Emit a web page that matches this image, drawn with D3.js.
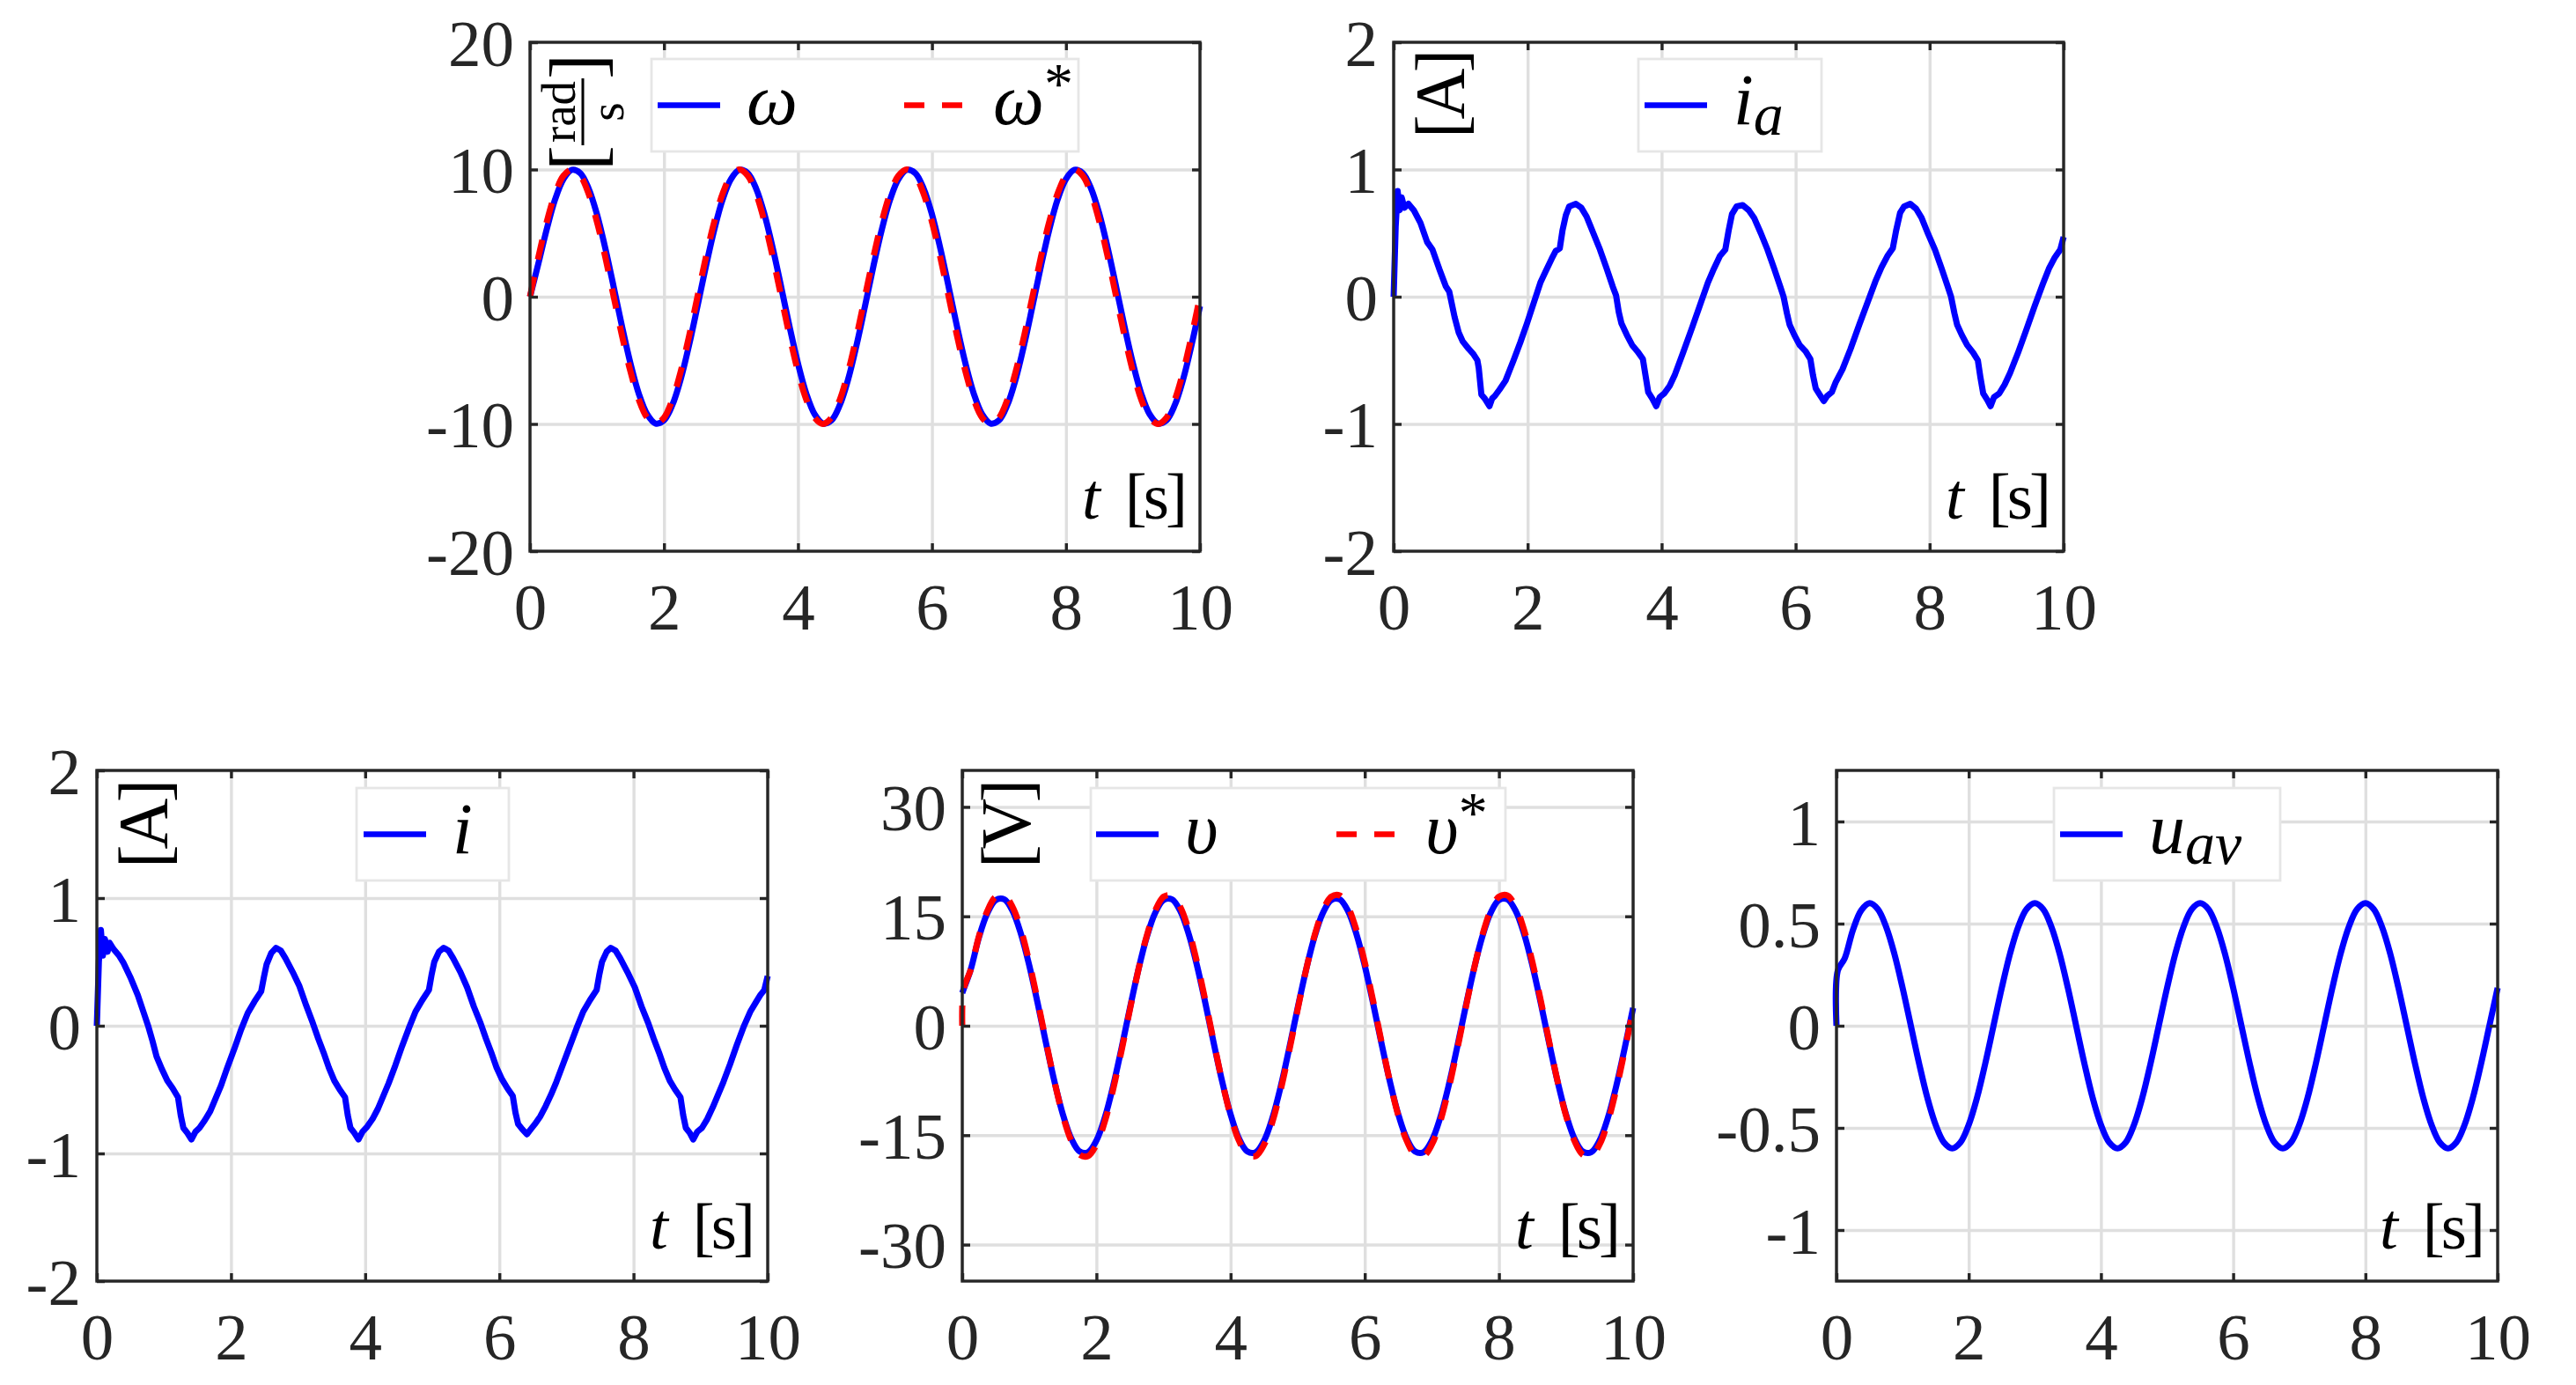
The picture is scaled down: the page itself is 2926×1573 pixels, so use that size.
<!DOCTYPE html>
<html>
<head>
<meta charset="utf-8">
<script src="https://cdn.jsdelivr.net/npm/d3@7"></script>
<style>
  body { margin: 0; background: #fff; }
  svg { display: block; }
  text { font-family: "Liberation Serif", "Times New Roman", serif; }
</style>
</head>
<body>
<div id="chart"></div>
<script>
// sample times [s] for the smooth signals
var tGrid = [0, 0.02, 0.125, 0.25, 0.375, 0.5, 0.625, 0.75, 0.875, 1, 1.125, 1.25, 1.375, 1.5, 1.625, 1.75, 1.875, 2,
  2.125, 2.25, 2.375, 2.5, 2.625, 2.75, 2.875, 3, 3.125, 3.25, 3.375, 3.5, 3.625, 3.75, 3.875, 4,
  4.125, 4.25, 4.375, 4.5, 4.625, 4.75, 4.875, 5, 5.125, 5.25, 5.375, 5.5, 5.625, 5.75, 5.875, 6,
  6.125, 6.25, 6.375, 6.5, 6.625, 6.75, 6.875, 7, 7.125, 7.25, 7.375, 7.5, 7.625, 7.75, 7.875, 8,
  8.125, 8.25, 8.375, 8.5, 8.625, 8.75, 8.875, 9, 9.125, 9.25, 9.375, 9.5, 9.625, 9.75, 9.875, 10];

// speed [rad/s]
var omega = [0, 0.4,
  2.6, 5.3, 7.65, 9.25, 9.97, 9.72, 8.51, 6.47, 3.79, 0.75, -2.37, -5.25, -7.63, -9.25, -9.97, -9.72, -8.51, -6.47, -3.79, -0.75,
  2.37, 5.25, 7.63, 9.25, 9.97, 9.72, 8.51, 6.47, 3.79, 0.75, -2.37, -5.25, -7.63, -9.25, -9.97, -9.72, -8.51, -6.47, -3.79, -0.75,
  2.37, 5.25, 7.63, 9.25, 9.97, 9.72, 8.51, 6.47, 3.79, 0.75, -2.37, -5.25, -7.63, -9.25, -9.97, -9.72, -8.51, -6.47, -3.79, -0.75,
  2.37, 5.25, 7.63, 9.25, 9.97, 9.72, 8.51, 6.47, 3.79, 0.75, -2.37, -5.25, -7.63, -9.25, -9.97, -9.72, -8.51, -6.47, -3.79, -0.75];
var omegaRef = [0, 0.5,
  3.09, 5.88, 8.09, 9.51, 10, 9.51, 8.09, 5.88, 3.09, 0, -3.09, -5.88, -8.09, -9.51, -10, -9.51, -8.09, -5.88, -3.09, 0,
  3.09, 5.88, 8.09, 9.51, 10, 9.51, 8.09, 5.88, 3.09, 0, -3.09, -5.88, -8.09, -9.51, -10, -9.51, -8.09, -5.88, -3.09, 0,
  3.09, 5.88, 8.09, 9.51, 10, 9.51, 8.09, 5.88, 3.09, 0, -3.09, -5.88, -8.09, -9.51, -10, -9.51, -8.09, -5.88, -3.09, 0,
  3.09, 5.88, 8.09, 9.51, 10, 9.51, 8.09, 5.88, 3.09, 0, -3.09, -5.88, -8.09, -9.51, -10, -9.51, -8.09, -5.88, -3.09, 0];

// voltage [V]
var volt = [4.5, 5.0,
  7.67, 12.16, 15.45, 17.23, 17.33, 15.73, 12.59, 8.22, 3.04, -2.44, -7.67, -12.16, -15.45, -17.23, -17.33, -15.73, -12.59, -8.22, -3.04, 2.44,
  7.67, 12.16, 15.45, 17.23, 17.33, 15.73, 12.59, 8.22, 3.04, -2.44, -7.67, -12.16, -15.45, -17.23, -17.33, -15.73, -12.59, -8.22, -3.04, 2.44,
  7.67, 12.16, 15.45, 17.23, 17.33, 15.73, 12.59, 8.22, 3.04, -2.44, -7.67, -12.16, -15.45, -17.23, -17.33, -15.73, -12.59, -8.22, -3.04, 2.44,
  7.67, 12.16, 15.45, 17.23, 17.33, 15.73, 12.59, 8.22, 3.04, -2.44, -7.67, -12.16, -15.45, -17.23, -17.33, -15.73, -12.59, -8.22, -3.04, 2.44];
var voltRef = [0, 5.0,
  7.66, 12.32, 15.76, 17.68, 17.86, 16.29, 13.12, 8.67, 3.37, -2.25, -7.66, -12.32, -15.76, -17.68, -17.86, -16.29, -13.12, -8.67, -3.37, 2.25,
  7.66, 12.32, 15.76, 17.68, 17.86, 16.29, 13.12, 8.67, 3.37, -2.25, -7.66, -12.32, -15.76, -17.68, -17.86, -16.29, -13.12, -8.67, -3.37, 2.25,
  7.66, 12.32, 15.76, 17.68, 17.86, 16.29, 13.12, 8.67, 3.37, -2.25, -7.66, -12.32, -15.76, -17.68, -17.86, -16.29, -13.12, -8.67, -3.37, 2.25,
  7.66, 12.32, 15.76, 17.68, 17.86, 16.29, 13.12, 8.67, 3.37, -2.25, -7.66, -12.32, -15.76, -17.68, -17.86, -16.29, -13.12, -8.67, -3.37, 2.25];

// average duty cycle
var uav = [0, 0.27,
  0.33, 0.47, 0.565, 0.6, 0.571, 0.485, 0.353, 0.185, 0, -0.185, -0.353, -0.485, -0.571, -0.6, -0.571, -0.485, -0.353, -0.185, 0, 0.185,
  0.353, 0.485, 0.571, 0.6, 0.571, 0.485, 0.353, 0.185, 0, -0.185, -0.353, -0.485, -0.571, -0.6, -0.571, -0.485, -0.353, -0.185, 0, 0.185,
  0.353, 0.485, 0.571, 0.6, 0.571, 0.485, 0.353, 0.185, 0, -0.185, -0.353, -0.485, -0.571, -0.6, -0.571, -0.485, -0.353, -0.185, 0, 0.185,
  0.353, 0.485, 0.571, 0.6, 0.571, 0.485, 0.353, 0.185, 0, -0.185, -0.353, -0.485, -0.571, -0.6, -0.571, -0.485, -0.353, -0.185, 0, 0.185];

// armature current i_a [A], (t, value)
var iaData = [[0, 0], [0.03, 0.55], [0.06, 0.83], [0.09, 0.68], [0.12, 0.78], [0.16, 0.7], [0.22, 0.73], [0.3, 0.68],
  [0.4, 0.58], [0.5, 0.43], [0.58, 0.37], [0.68, 0.22], [0.78, 0.08], [0.83, 0.04], [0.91, -0.16], [0.97, -0.28],
  [1.03, -0.35], [1.12, -0.41], [1.19, -0.45], [1.25, -0.5], [1.27, -0.56], [1.31, -0.77], [1.36, -0.8], [1.43, -0.86],
  [1.47, -0.8], [1.51, -0.78], [1.58, -0.73], [1.67, -0.66], [1.73, -0.58], [1.79, -0.5], [1.89, -0.36], [1.99, -0.21],
  [2.09, -0.05], [2.19, 0.11], [2.27, 0.2], [2.36, 0.3], [2.42, 0.36], [2.48, 0.38], [2.52, 0.52], [2.57, 0.64],
  [2.62, 0.71], [2.72, 0.73], [2.8, 0.7], [2.88, 0.63], [2.98, 0.5], [3.08, 0.37], [3.18, 0.22], [3.27, 0.08],
  [3.32, 0.01], [3.36, -0.12], [3.4, -0.21], [3.48, -0.3], [3.56, -0.38], [3.64, -0.43], [3.72, -0.49], [3.76, -0.62],
  [3.8, -0.75], [3.86, -0.8], [3.92, -0.86], [3.97, -0.79], [4.04, -0.76], [4.12, -0.7], [4.2, -0.61], [4.32, -0.44],
  [4.45, -0.25], [4.57, -0.07], [4.69, 0.11], [4.78, 0.22], [4.87, 0.32], [4.95, 0.37], [5, 0.52], [5.05, 0.65],
  [5.12, 0.71], [5.21, 0.72], [5.3, 0.68], [5.38, 0.62], [5.48, 0.5], [5.58, 0.37], [5.68, 0.22], [5.77, 0.08],
  [5.82, 0], [5.87, -0.13], [5.91, -0.22], [5.98, -0.3], [6.06, -0.38], [6.15, -0.43], [6.22, -0.49], [6.26, -0.62],
  [6.3, -0.72], [6.36, -0.77], [6.42, -0.82], [6.47, -0.78], [6.54, -0.75], [6.6, -0.67], [6.7, -0.57], [6.82, -0.41],
  [6.95, -0.22], [7.07, -0.05], [7.19, 0.12], [7.28, 0.23], [7.37, 0.32], [7.45, 0.38], [7.5, 0.52], [7.56, 0.66],
  [7.62, 0.71], [7.71, 0.73], [7.8, 0.69], [7.88, 0.62], [7.98, 0.49], [8.08, 0.37], [8.18, 0.22], [8.27, 0.08],
  [8.32, 0], [8.37, -0.13], [8.41, -0.22], [8.48, -0.3], [8.56, -0.38], [8.65, -0.44], [8.72, -0.5], [8.76, -0.64],
  [8.8, -0.76], [8.86, -0.81], [8.91, -0.86], [8.96, -0.79], [9.04, -0.76], [9.12, -0.69], [9.2, -0.6], [9.32, -0.44],
  [9.45, -0.25], [9.57, -0.07], [9.69, 0.1], [9.78, 0.22], [9.87, 0.31], [9.95, 0.37], [10, 0.47]];

// input current i [A], (t, value)
var iData = [[0, 0], [0.03, 0.5], [0.06, 0.75], [0.09, 0.55], [0.12, 0.68], [0.16, 0.58], [0.19, 0.65], [0.25, 0.6],
  [0.33, 0.55], [0.4, 0.49], [0.5, 0.38], [0.61, 0.24], [0.7, 0.1], [0.77, -0.01], [0.83, -0.12], [0.89, -0.24],
  [0.97, -0.34], [1.05, -0.43], [1.13, -0.49], [1.21, -0.56], [1.25, -0.7], [1.29, -0.8], [1.35, -0.84], [1.41, -0.89],
  [1.47, -0.83], [1.53, -0.8], [1.61, -0.74], [1.69, -0.67], [1.77, -0.57], [1.85, -0.47], [1.95, -0.32], [2.05, -0.18],
  [2.15, -0.03], [2.25, 0.1], [2.35, 0.19], [2.45, 0.27], [2.49, 0.38], [2.53, 0.48], [2.6, 0.57], [2.67, 0.61],
  [2.74, 0.59], [2.81, 0.53], [2.92, 0.42], [3.02, 0.31], [3.12, 0.16], [3.22, 0.02], [3.3, -0.1], [3.38, -0.21],
  [3.46, -0.33], [3.54, -0.43], [3.62, -0.5], [3.7, -0.56], [3.74, -0.7], [3.78, -0.8], [3.84, -0.84], [3.9, -0.89],
  [3.96, -0.83], [4.03, -0.79], [4.11, -0.73], [4.19, -0.65], [4.27, -0.55], [4.35, -0.45], [4.45, -0.31], [4.55, -0.16],
  [4.65, -0.02], [4.75, 0.11], [4.85, 0.2], [4.95, 0.28], [4.99, 0.4], [5.03, 0.5], [5.1, 0.58], [5.17, 0.61],
  [5.24, 0.59], [5.31, 0.53], [5.42, 0.42], [5.52, 0.3], [5.62, 0.15], [5.72, 0.02], [5.8, -0.1], [5.88, -0.21],
  [5.96, -0.33], [6.04, -0.42], [6.12, -0.49], [6.2, -0.55], [6.24, -0.68], [6.28, -0.77], [6.34, -0.81], [6.41, -0.85],
  [6.47, -0.81], [6.53, -0.77], [6.61, -0.71], [6.69, -0.63], [6.77, -0.54], [6.85, -0.44], [6.95, -0.3], [7.05, -0.16],
  [7.15, -0.02], [7.25, 0.11], [7.35, 0.2], [7.45, 0.28], [7.49, 0.4], [7.53, 0.5], [7.6, 0.58], [7.66, 0.61],
  [7.73, 0.59], [7.8, 0.53], [7.91, 0.42], [8.02, 0.3], [8.12, 0.15], [8.22, 0.02], [8.3, -0.1], [8.38, -0.21],
  [8.46, -0.33], [8.54, -0.43], [8.62, -0.5], [8.7, -0.56], [8.74, -0.7], [8.78, -0.8], [8.84, -0.84], [8.89, -0.89],
  [8.95, -0.83], [9.02, -0.8], [9.1, -0.73], [9.18, -0.64], [9.26, -0.54], [9.34, -0.44], [9.44, -0.3], [9.54, -0.15],
  [9.64, -0.01], [9.74, 0.11], [9.82, 0.18], [9.89, 0.24], [9.95, 0.28], [10, 0.39]];

// ticks
var xTicks = [0, 2, 4, 6, 8, 10];
var wTicks = [-20, -10, 0, 10, 20];
var aTicks = [-2, -1, 0, 1, 2];
var vTicks = [-30, -15, 0, 15, 30];
var uTicks = [-1, -0.5, 0, 0.5, 1];

var svgWidth = 2926;
var svgHeight = 1573;
var axisColor = "#262626";
var gridColor = "#dfdfdf";
var blue = "#0000ff";
var red = "#ff0000";

var svg = d3.select("#chart")
  .append("svg")
  .attr("width", svgWidth)
  .attr("height", svgHeight);

var smooth = d3.curveCatmullRom.alpha(0.5);

var panels = [
  {
    x0: 602, x1: 1363, y0: 48, y1: 626, yDomain: [-20, 20], yTicks: wTicks,
    series: [
      { data: d3.zip(tGrid, omega), color: blue, curve: smooth },
      { data: d3.zip(tGrid, omegaRef), color: red, dash: "23,20", curve: smooth }
    ],
    legend: { x: 740, y: 67, w: 485, h: 105, entries: [
      { sx: 747, color: blue, parts: [{ s: "\u03C9" }] },
      { sx: 1027, color: red, dash: "23,20", parts: [{ s: "\u03C9" }, { s: "*", sup: true }] }
    ] },
    unit: "rad"
  },
  {
    x0: 1583, x1: 2344, y0: 48, y1: 626, yDomain: [-2, 2], yTicks: aTicks,
    series: [{ data: iaData, color: blue, curve: d3.curveLinear }],
    legend: { x: 1861, y: 67, w: 208, h: 105, entries: [
      { sx: 1868, color: blue, parts: [{ s: "i" }, { s: "a", sub: true }] }
    ] },
    unit: "[A]", ux: 1643, uy: 109
  },
  {
    x0: 110, x1: 872, y0: 875, y1: 1455, yDomain: [-2, 2], yTicks: aTicks,
    series: [{ data: iData, color: blue, curve: d3.curveLinear }],
    legend: { x: 405, y: 895, w: 173, h: 105, entries: [
      { sx: 413, color: blue, parts: [{ s: "i" }] }
    ] },
    unit: "[A]", ux: 170, uy: 938
  },
  {
    x0: 1093, x1: 1855, y0: 875, y1: 1455, yDomain: [-35, 35], yTicks: vTicks,
    series: [
      { data: d3.zip(tGrid, volt), color: blue, curve: smooth },
      { data: d3.zip(tGrid, voltRef), color: red, dash: "23,20", curve: smooth }
    ],
    legend: { x: 1239, y: 895, w: 471, h: 105, entries: [
      { sx: 1245, color: blue, parts: [{ s: "\u03C5" }] },
      { sx: 1518, color: red, dash: "23,20", parts: [{ s: "\u03C5" }, { s: "*", sup: true }] }
    ] },
    unit: "[V]", ux: 1150, uy: 938
  },
  {
    x0: 2086, x1: 2837, y0: 875, y1: 1455, yDomain: [-1.25, 1.25], yTicks: uTicks,
    series: [{ data: d3.zip(tGrid, uav), color: blue, curve: smooth }],
    legend: { x: 2333, y: 895, w: 257, h: 105, entries: [
      { sx: 2340, color: blue, parts: [{ s: "u" }, { s: "av", sub: true }] }
    ] },
    unit: null
  }
];

function styleAxis(sel, labels) {
  sel.select(".domain").remove();
  sel.selectAll(".tick line").attr("stroke", axisColor).attr("stroke-width", 3.4);
  if (labels) {
    sel.selectAll(".tick text")
      .attr("fill", axisColor)
      .attr("font-size", 75)
      .style("font-family", "'Liberation Serif', 'Times New Roman', serif");
  }
}

function drawPanel(p) {
  var x = d3.scaleLinear().domain([0, 10]).range([p.x0, p.x1]);
  var y = d3.scaleLinear().domain(p.yDomain).range([p.y1, p.y0]);
  var w = p.x1 - p.x0;
  var h = p.y1 - p.y0;
  var g = svg.append("g");

  // grid lines
  g.append("g")
    .attr("transform", `translate(0, ${p.y1})`)
    .call(d3.axisBottom(x).tickValues(xTicks).tickSize(-h).tickFormat(""))
    .call(function(s) {
      s.select(".domain").remove();
      s.selectAll("line").attr("stroke", gridColor).attr("stroke-width", 3.4);
    });
  g.append("g")
    .attr("transform", `translate(${p.x0}, 0)`)
    .call(d3.axisLeft(y).tickValues(p.yTicks).tickSize(-w).tickFormat(""))
    .call(function(s) {
      s.select(".domain").remove();
      s.selectAll("line").attr("stroke", gridColor).attr("stroke-width", 3.4);
    });

  // data lines
  p.series.forEach(function(s) {
    var line = d3.line()
      .x(d => x(d[0]))
      .y(d => y(d[1]))
      .curve(s.curve);
    g.append("path")
      .datum(s.data)
      .attr("d", line)
      .attr("fill", "none")
      .attr("stroke", s.color)
      .attr("stroke-width", 7)
      .attr("stroke-linejoin", "round")
      .attr("stroke-dasharray", s.dash || null);
  });

  // frame
  g.append("rect")
    .attr("x", p.x0).attr("y", p.y0)
    .attr("width", w).attr("height", h)
    .attr("fill", "none")
    .attr("stroke", axisColor)
    .attr("stroke-width", 3.4);

  // ticks, inward on all four sides
  g.append("g")
    .attr("transform", `translate(${p.x0}, 0)`)
    .call(d3.axisLeft(y).tickValues(p.yTicks).tickSize(-9).tickPadding(18).tickFormat(d => String(d)))
    .call(s => styleAxis(s, true))
    .selectAll(".tick text").attr("dy", "0.35em");
  g.append("g")
    .attr("transform", `translate(${p.x1}, 0)`)
    .call(d3.axisRight(y).tickValues(p.yTicks).tickSize(-9).tickFormat(""))
    .call(s => styleAxis(s, false));
  g.append("g")
    .attr("transform", `translate(0, ${p.y1})`)
    .call(d3.axisBottom(x).tickValues(xTicks).tickSize(-9).tickPadding(36).tickFormat(d => String(d)))
    .call(s => styleAxis(s, true));
  g.append("g")
    .attr("transform", `translate(0, ${p.y0})`)
    .call(d3.axisTop(x).tickValues(xTicks).tickSize(-9).tickFormat(""))
    .call(s => styleAxis(s, false));

  // legend
  var L = p.legend;
  var lg = g.append("g");
  lg.append("rect")
    .attr("x", L.x).attr("y", L.y)
    .attr("width", L.w).attr("height", L.h)
    .attr("fill", "#fff")
    .attr("stroke", "#e6e6e6")
    .attr("stroke-width", 2.8);
  var cy = L.y + L.h / 2;
  L.entries.forEach(function(e) {
    lg.append("line")
      .attr("x1", e.sx).attr("x2", e.sx + 71)
      .attr("y1", cy).attr("y2", cy)
      .attr("stroke", e.color)
      .attr("stroke-width", 6.5)
      .attr("stroke-dasharray", e.dash || null);
    var t = lg.append("text")
      .attr("x", e.sx + 101)
      .attr("y", cy + 21)
      .attr("font-size", 82)
      .attr("fill", "#000");
    e.parts.forEach(function(pt) {
      var ts = t.append("tspan").text(pt.s).attr("font-style", "italic");
      if (pt.sub) ts.attr("font-size", 68).attr("dy", 12);
      if (pt.sup) ts.attr("font-size", 66).attr("dy", -24).attr("font-style", "normal");
    });
  });

  // time label
  var tl = g.append("text")
    .attr("x", p.x1 - 18)
    .attr("y", p.y1 - 37)
    .attr("text-anchor", "end")
    .attr("font-size", 75)
    .attr("fill", "#000");
  tl.append("tspan").attr("font-style", "italic").text("t");
  tl.append("tspan").attr("dx", 28).attr("letter-spacing", -4).text("[s]");

  // unit label, rotated
  if (p.unit === "rad") {
    var fg = g.append("g").attr("transform", `translate(${p.x0 + 60}, ${p.y0 + 79}) rotate(-90)`);
    fg.append("text").attr("x", 0).attr("y", -9).attr("text-anchor", "middle")
      .attr("font-size", 55).text("rad");
    fg.append("line").attr("x1", -38).attr("x2", 38).attr("y1", 0).attr("y2", 0)
      .attr("stroke", "#000").attr("stroke-width", 3);
    fg.append("text").attr("x", 0).attr("y", 46).attr("text-anchor", "middle")
      .attr("font-size", 55).text("s");
    fg.append("text").attr("x", -67).attr("y", 22).attr("font-size", 87).text("[");
    fg.append("text").attr("x", 66).attr("y", 22).attr("text-anchor", "end")
      .attr("font-size", 87).text("]");
  } else if (p.unit) {
    g.append("text")
      .attr("transform", `translate(${p.ux + 20}, ${p.uy}) rotate(-90)`)
      .attr("text-anchor", "middle")
      .attr("font-size", 80)
      .attr("letter-spacing", -5)
      .attr("fill", "#000")
      .text(p.unit);
  }
}

panels.forEach(drawPanel);
</script>
</body>
</html>
